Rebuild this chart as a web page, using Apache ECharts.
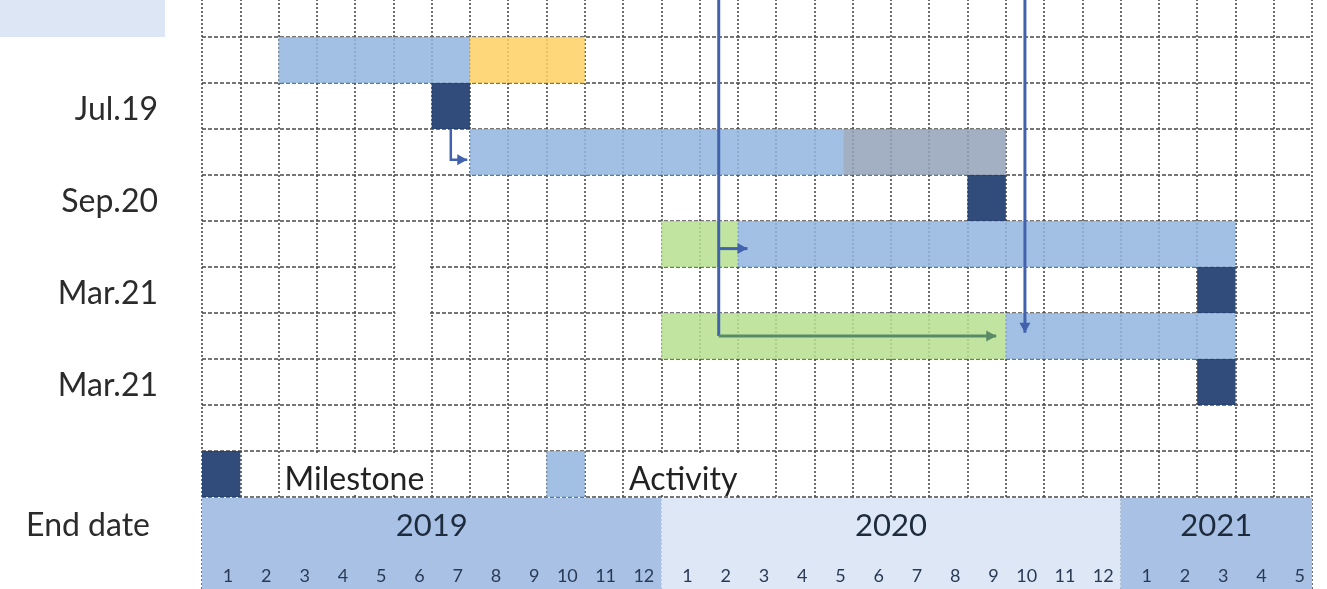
<!DOCTYPE html>
<html><head><meta charset="utf-8">
<script src="https://cdn.jsdelivr.net/npm/echarts@6/dist/echarts.min.js"></script>
<style>html,body{margin:0;padding:0;background:#fff}#c{width:1327px;height:589px}</style>
</head><body><div id="c"></div>
<script>
// ---- data ----
const monthLabels = ['1','2','3','4','5','6','7','8','9','10','11','12','1','2','3','4','5','6','7','8','9','10','11','12','1','2','3','4','5'];
const yearLabels = ['2019','2020','2021'];
const yearStartCol = [0, 12, 24];
const yearEndCol = [12, 24, 29];
const rowLabels = ['Jul.19', 'Sep.20', 'Mar.21', 'Mar.21', 'End date'];
const rowLabelRows = [2, 4, 6, 8, 11];
const barRows  = [1, 1, 3, 3, 5, 5, 7, 7];
const barStart = [2, 7, 7, 16.75, 12, 14, 12, 21];
const barEnd   = [7, 10, 16.75, 21, 14, 27, 21, 27];
const barKind  = ['activity', 'delay', 'activity', 'float', 'preparation', 'activity', 'preparation', 'activity'];
const milestoneRows = [2, 4, 6, 8];
const milestoneCols = [6, 20, 26, 26];
const legendLabels = ['Milestone', 'Activity'];
const legendKinds = ['milestone', 'activity'];
const legendSwatchCol = [0, 9];
const legendTextCol = [2, 11];
const legendTextEndCol = [6, 15];
const legendRow = 10;
const mergedCellCol = [5];
const mergedCellRowStart = [5];
const mergedCellRowEnd = [8];
const linkPaths = [
  [[6.5, 3], [6.5, 3.67], [6.93, 3.67]],
  [[13.5, 0], [13.5, 7.5]],
  [[13.5, 5.6], [14.25, 5.6]],
  [[13.5, 7.5], [20.75, 7.5]],
  [[21.5, 0], [21.5, 7.43]]
];
const linkKinds = ['blue', 'blue', 'blue', 'green', 'blue'];
const linkArrow = [true, false, true, true, true];

// ---- styles ----
const fillColors = {
  activity: '#93B4E0', delay: '#FDD164', float: '#94A3BA',
  preparation: '#B7DF92', milestone: '#1F3D70'
};
const linkColors = { blue: '#4262AE', green: '#5B8A66' };
const FONT = 'Lato, "Open Sans", "Liberation Sans", sans-serif';

const chart = echarts.init(document.getElementById('c'), null, { renderer: 'canvas' });

function cellRect(api, x0, x1, y0, y1) {
  const a = api.coord([x0, y0]);
  const b = api.coord([x1, y1]);
  return { x: a[0], y: a[1], width: b[0] - a[0], height: b[1] - a[1] };
}

const option = {
  animation: false,
  grid: { left: 202, right: 15, top: -9, bottom: 0, containLabel: false, outerBoundsMode: 'none' },
  xAxis: {
    type: 'value', min: 0, max: 29, interval: 1,
    axisLine: { show: false }, axisTick: { show: false }, axisLabel: { show: false },
    splitLine: { show: true, lineStyle: { color: '#4a4a4a', width: 1.6, type: [2, 2] } }
  },
  yAxis: {
    type: 'value', inverse: true, min: 0, max: 13, interval: 1,
    axisLine: { show: false }, axisTick: { show: false }, axisLabel: { show: false },
    splitLine: { show: true, lineStyle: { color: '#4a4a4a', width: 1.6, type: [4, 2] } }
  },
  series: [
    // merged (white) cells hiding inner grid lines
    {
      type: 'custom', z: 2,
      data: mergedCellCol.map((c, i) => [c, mergedCellRowStart[i], mergedCellRowEnd[i]]),
      renderItem(params, api) {
        const r = cellRect(api, api.value(0), api.value(0) + 1, api.value(1), api.value(2));
        return { type: 'rect', shape: { x: r.x + 2, y: r.y + 2, width: r.width - 4, height: r.height - 4 }, style: { fill: '#fff' } };
      }
    },
    // header bands (years)
    {
      type: 'custom', z: 3,
      data: yearLabels.map((y, i) => [yearStartCol[i], yearEndCol[i], i]),
      renderItem(params, api) {
        const i = api.value(2);
        const r = cellRect(api, api.value(0), api.value(1), 11, 13);
        const mid = api.coord([(api.value(0) + api.value(1)) / 2, 11.5]);
        return {
          type: 'group', children: [
            { type: 'rect', shape: { x: r.x, y: r.y + 1, width: r.width, height: r.height }, style: { fill: i === 1 ? '#DDE7F5' : '#A8C1E5' } },
            { type: 'text', x: mid[0], y: mid[1] + 6, style: { text: yearLabels[i], fill: '#1E2B3C', fontSize: 31, fontFamily: FONT, align: 'center', verticalAlign: 'middle' } }
          ]
        };
      }
    },
    // month numbers (right-aligned inside each month column)
    {
      type: 'custom', z: 4,
      data: monthLabels.map((m, i) => [i + 1, 12.5, i]),
      renderItem(params, api) {
        const p = api.coord([api.value(0), api.value(1)]);
        return { type: 'text', x: p[0] - 7, y: p[1] + 10, style: { text: monthLabels[api.value(2)], fill: '#2A3A55', fontSize: 18, fontFamily: FONT, align: 'right', verticalAlign: 'middle' } };
      }
    },
    // activity bars
    {
      type: 'custom', z: 5,
      data: barRows.map((r, i) => [barStart[i], barEnd[i], r, i]),
      renderItem(params, api) {
        const i = api.value(3);
        const r = cellRect(api, api.value(0), api.value(1), api.value(2), api.value(2) + 1);
        return { type: 'rect', shape: r, style: { fill: fillColors[barKind[i]], opacity: 0.86 } };
      }
    },
    // milestones
    {
      type: 'custom', z: 6,
      data: milestoneRows.map((r, i) => [milestoneCols[i], r]),
      renderItem(params, api) {
        const r = cellRect(api, api.value(0), api.value(0) + 1, api.value(1), api.value(1) + 1);
        return { type: 'rect', shape: r, style: { fill: fillColors.milestone, opacity: 0.92 } };
      }
    },
    // legend
    {
      type: 'custom', z: 6,
      data: legendLabels.map((l, i) => [legendSwatchCol[i], legendTextCol[i], legendTextEndCol[i], i]),
      renderItem(params, api) {
        const i = api.value(3);
        const sw = cellRect(api, api.value(0), api.value(0) + 1, legendRow, legendRow + 1);
        const tb = cellRect(api, api.value(1), api.value(2), legendRow, legendRow + 1);
        return {
          type: 'group', children: [
            { type: 'rect', shape: sw, style: { fill: fillColors[legendKinds[i]], opacity: legendKinds[i] === 'milestone' ? 0.92 : 0.86 } },
            { type: 'rect', shape: { x: tb.x + 2, y: tb.y + 2, width: tb.width - 4, height: tb.height - 4 }, style: { fill: '#fff' } },
            { type: 'text', x: tb.x + 6, y: tb.y + tb.height / 2 + 6, style: { text: legendLabels[i], fill: '#222', fontSize: 32, fontFamily: FONT, align: 'left', verticalAlign: 'middle' } }
          ]
        };
      }
    },
    // links / arrows
    {
      type: 'custom', z: 7,
      data: linkPaths.map((p, i) => [i]),
      renderItem(params, api) {
        const i = api.value(0);
        const pts = linkPaths[i].map(p => api.coord(p));
        const color = linkColors[linkKinds[i]];
        const children = [{ type: 'polyline', shape: { points: pts }, style: { stroke: color, lineWidth: i === 0 ? 2.5 : 3, fill: null } }];
        if (linkArrow[i]) {
          const a = pts[pts.length - 2], b = pts[pts.length - 1];
          const dx = b[0] - a[0], dy = b[1] - a[1];
          const len = Math.sqrt(dx * dx + dy * dy) || 1;
          const ux = dx / len, uy = dy / len;
          const L = 10, W = 5.5;
          const bx = b[0] - ux * L, by = b[1] - uy * L;
          children.push({ type: 'polygon', shape: { points: [[b[0], b[1]], [bx - uy * W, by + ux * W], [bx + uy * W, by - ux * W]] }, style: { fill: color } });
        }
        return { type: 'group', children };
      }
    },
    // row labels + top-left header cell
    {
      type: 'custom', z: 8,
      data: rowLabels.map((l, i) => [rowLabelRows[i], i]),
      renderItem(params, api) {
        const i = api.value(1);
        const row = api.value(0);
        const p = api.coord([0, row + 0.5]);
        const inset = row === 11 ? 52 : 44;
        const children = [
          { type: 'text', x: p[0] - inset, y: p[1] + (row === 11 ? 6 : 4), style: { text: rowLabels[i], fill: '#2b2b2b', fontSize: 32, fontFamily: FONT, align: 'right', verticalAlign: 'middle' } }
        ];
        if (i === 0) {
          const t = api.coord([0, 0]);
          const bt = api.coord([0, 1]);
          children.push({ type: 'rect', shape: { x: 0, y: t[1], width: t[0] - 37, height: bt[1] - t[1] }, style: { fill: '#DCE6F4' } });
        }
        return { type: 'group', children };
      }
    }
  ]
};
chart.setOption(option);
</script>
</body></html>
